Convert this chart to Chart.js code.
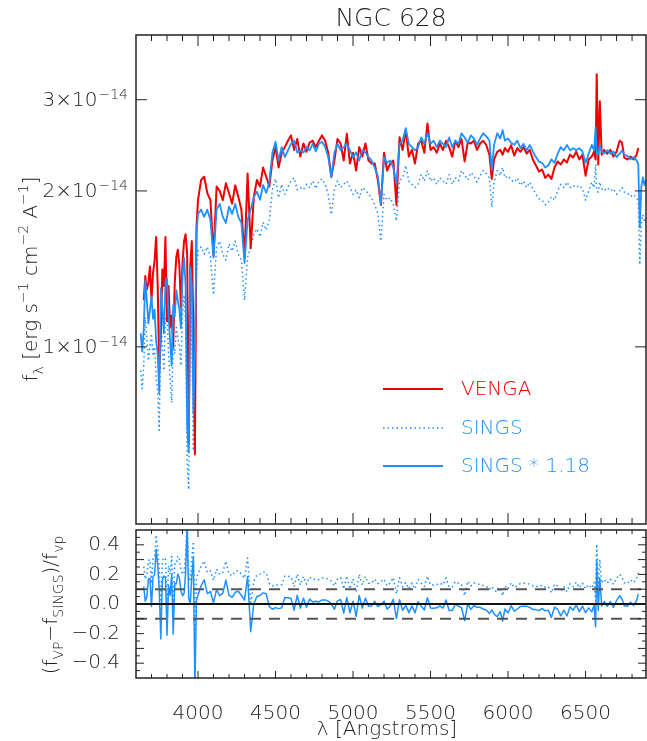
<!DOCTYPE html>
<html>
<head>
<meta charset="utf-8">
<title>NGC 628</title>
<script src="https://cdn.jsdelivr.net/npm/chart.js@4.4.1/dist/chart.umd.min.js"></script>
<style>
  html, body { margin: 0; padding: 0; background: #fff; }
  #page { position: relative; width: 647px; height: 741px; overflow: hidden; }
  canvas { position: absolute; left: 0; }
  #specChart { top: 0; }
  #resChart { top: 510px; }
</style>
</head>
<body>
<div id="page">
  <canvas id="specChart" width="647" height="527"></canvas>
  <canvas id="resChart" width="647" height="231"></canvas>
</div>
<script>
// wavelength grid (Angstroms)
const wave = [
  3630, 3640, 3650, 3660, 3670, 3680, 3690, 3700, 3710, 3720, 3730, 3740, 3750, 3760, 3770, 3780, 3790, 3800, 3810, 3820,
  3830, 3840, 3850, 3860, 3870, 3880, 3890, 3900, 3910, 3920, 3930, 3940, 3950, 3960, 3970, 3980, 3990, 4000,
  4020, 4040, 4060, 4080, 4100, 4120, 4140, 4160, 4180, 4200, 4220, 4240, 4260, 4280, 4300, 4320, 4340, 4360, 4380, 4400,
  4420, 4440, 4460, 4480, 4500, 4520, 4540, 4560, 4580, 4600, 4620, 4640, 4660, 4680,
  4700, 4720, 4740, 4760, 4780, 4800, 4820, 4840, 4860, 4880, 4900, 4920, 4940, 4960, 4980, 5000, 5020, 5040, 5060, 5080,
  5100, 5120, 5140, 5160, 5180, 5200, 5220, 5240, 5260, 5280, 5300, 5320, 5340, 5360, 5380, 5400, 5420, 5440, 5460, 5480,
  5500, 5520, 5540, 5560, 5580, 5600, 5620, 5640, 5660, 5680, 5700, 5720, 5740, 5760, 5780,
  5800, 5820, 5840, 5860, 5880, 5895, 5910, 5930, 5950, 5965, 5980,
  6000, 6020, 6040, 6060, 6080, 6100, 6120, 6140, 6160, 6180, 6200, 6220, 6240, 6260, 6280, 6300, 6320, 6340, 6360, 6380,
  6400, 6420, 6440, 6460, 6480, 6500, 6520, 6540,
  6555, 6565, 6572, 6582, 6592, 6604, 6620, 6640, 6660, 6680, 6700, 6720, 6735, 6750, 6770, 6790, 6810, 6830, 6840, 6850,
  6860, 6870, 6880, 6890
];

// VENGA flux, units of 1e-14 erg/s/cm2/A
const venga = [
  null, null, 1.23, 1.37, 1.29, 1.33, 1.43, 1.23, 1.39, 1.47, 1.63, 1.31, 0.90, 1.05, 1.41, 1.31, 1.63, 1.12, 1.31, 1.09,
  1.15, 1.00, 1.33, 1.49, 1.54, 1.43, 1.19, 1.45, 1.60, 1.65, 1.51, 0.65, 1.43, 1.60, 1.09, 0.62, 1.70, 1.92,
  2.10, 2.13, 1.98, 1.92, 1.50, 2.04, 2.00, 1.92, 2.07, 1.98, 1.89, 2.05, 1.95, 1.84, 1.49, 2.16, 1.55, 1.95, 2.10, 2.04,
  2.22, 2.13, 2.04, 2.29, 2.43, 2.22, 2.37, 2.43, 2.50, 2.56, 2.40, 2.52, 2.33, 2.47,
  2.38, 2.48, 2.50, 2.43, 2.50, 2.56, 2.50, 2.37, 2.13, 2.29, 2.52, 2.47, 2.29, 2.58, 2.26, 2.37, 2.19, 2.43, 2.33, 2.47,
  2.29, 2.26, 2.26, 2.10, 1.88, 2.37, 2.19, 2.26, 2.29, 1.88, 2.54, 2.40, 2.62, 2.33, 2.40, 2.26, 2.47, 2.50, 2.37, 2.70,
  2.40, 2.43, 2.37, 2.47, 2.40, 2.50, 2.43, 2.33, 2.50, 2.43, 2.52, 2.28, 2.48, 2.47, 2.50,
  2.40, 2.47, 2.50, 2.45, 2.35, 2.11, 2.30, 2.38, 2.40, 2.35, 2.42,
  2.38, 2.45, 2.34, 2.42, 2.38, 2.43, 2.36, 2.40, 2.30, 2.24, 2.18, 2.20, 2.12, 2.15, 2.11, 2.22, 2.28, 2.25, 2.30, 2.27,
  2.35, 2.32, 2.38, 2.30, 2.35, 2.14, 2.30, 2.33,
  2.38, 2.30, 3.36, 2.25, 2.98, 2.35, 2.40, 2.36, 2.40, 2.33, 2.38, 2.50, 2.48, 2.32, 2.30, 2.33, 2.30, 2.35, 2.42, null,
  null, null, null, null
];

// SINGS flux (unscaled), units of 1e-14 erg/s/cm2/A
const sings = [
  0.90, 0.83, 0.92, 1.14, 1.04, 0.94, 1.00, 1.06, 0.96, 1.00, 0.87, 0.82, 0.69, 1.10, 1.00, 0.90, 1.13, 1.15, 0.97, 0.87,
  0.78, 1.02, 0.97, 1.09, 1.04, 1.00, 0.92, 1.16, 1.26, 1.11, 0.60, 0.53, 1.21, 1.11, 0.63, 0.82, 1.40, 1.53,
  1.56, 1.51, 1.56, 1.49, 1.26, 1.56, 1.60, 1.51, 1.47, 1.58, 1.53, 1.60, 1.51, 1.47, 1.23, 1.49, 1.56, 1.65, 1.69, 1.63,
  1.74, 1.68, 1.76, 2.01, 2.11, 1.94, 2.06, 1.97, 2.03, 2.09, 2.12, 2.01, 2.03, 2.01,
  2.06, 2.03, 2.09, 2.02, 2.09, 2.11, 2.06, 1.97, 1.80, 2.01, 2.09, 2.03, 2.06, 2.09, 2.03, 1.97, 2.01, 1.94, 2.03, 2.01,
  1.97, 1.94, 1.88, 1.81, 1.60, 1.97, 1.92, 1.94, 1.88, 1.75, 2.09, 2.12, 2.24, 2.09, 2.06, 2.03, 2.06, 2.15, 2.09, 2.19,
  2.09, 2.12, 2.06, 2.12, 2.09, 2.06, 2.15, 2.06, 2.12, 2.09, 2.19, 2.15, 2.10, 2.17, 2.14,
  2.08, 2.14, 2.19, 2.16, 2.12, 1.86, 2.08, 2.19, 2.14, 2.22, 2.12,
  2.14, 2.10, 2.08, 2.12, 2.05, 2.09, 2.03, 2.08, 2.02, 1.97, 1.93, 1.92, 1.88, 1.90, 1.95, 1.92, 2.00, 2.06, 2.03, 2.08,
  2.03, 2.05, 2.03, 2.05, 2.02, 1.92, 2.00, 2.08,
  2.03, 2.25, 2.00, 1.99, 2.08, 2.02, 2.00, 2.03, 2.00, 2.02, 1.97, 2.00, 2.03, 1.99, 1.98, 1.95, 1.97, 1.94, 1.91, 1.44,
  1.73, 1.80, 1.74, 1.78
];

const fluxUnit = 1e-14;
const singsScale = 1.18;

const xMin = 3600, xMax = 6890;
const fluxMin = 0.455, fluxMax = 4.0;     // units of fluxUnit
const resMin = -0.5, resMax = 0.5;

const xTickValues = [4000, 4500, 5000, 5500, 6000, 6500];
const xTickLabels = ['4000', '4500', '5000', '5500', '6000', '6500'];
const fluxTickValues = [1, 2, 3];
const fluxTickLabels = [['1×10', '−14'], ['2×10', '−14'], ['3×10', '−14']];
const resTickValues = [-0.4, -0.2, 0, 0.2, 0.4];
const resTickLabels = ['−0.4', '−0.2', '0.0', '0.2', '0.4'];
const resBandLevels = [0.1, -0.1];

const legendOrder = ['VENGA', 'SINGS', 'SINGS * 1.18'];

const FONT = '"DejaVu Sans", sans-serif';
const WEIGHT = '200 ';
const INK = '#222';
const RED = 'rgb(238,0,0)';
const BLUE = 'rgb(30,144,255)';

// residuals (f_vp - f_sings) / f_vp
const resRaw = wave.map((w, i) => venga[i] == null ? null : (venga[i] - sings[i]) / venga[i]);
const resScaled = wave.map((w, i) => venga[i] == null ? null : (venga[i] - sings[i] * singsScale) / venga[i]);

function pts(arr, f) {
  return wave.map((w, i) => ({ x: w, y: arr[i] == null ? null : f(arr[i]) }));
}

function font(size) { return WEIGHT + size + 'px ' + FONT; }

// text with sub/superscripts, parts = [[text, 'sub'|'sup'|undefined], ...]
function richWidth(ctx, parts, size) {
  let w = 0;
  parts.forEach(p => {
    ctx.font = font(p[1] ? size * 0.7 : size);
    w += ctx.measureText(p[0]).width;
  });
  return w;
}
function drawRich(ctx, parts, x, y, size, align) {
  const w = richWidth(ctx, parts, size);
  let cx = align === 'center' ? x - w / 2 : (align === 'right' ? x - w : x);
  ctx.textAlign = 'left';
  ctx.textBaseline = 'alphabetic';
  parts.forEach(p => {
    ctx.font = font(p[1] ? size * 0.7 : size);
    const dy = p[1] === 'sup' ? -size * 0.45 : (p[1] === 'sub' ? size * 0.28 : 0);
    ctx.fillText(p[0], cx, y + dy);
    cx += ctx.measureText(p[0]).width;
  });
}

// IDL style box with inward ticks on all four sides
const frameTicks = {
  id: 'frameTicks',
  afterDatasetsDraw(chart, args, opts) {
    const ctx = chart.ctx, a = chart.chartArea;
    const xs = chart.scales.x, ys = chart.scales.y;
    ctx.save();
    ctx.strokeStyle = INK;
    ctx.lineWidth = 1;
    ctx.beginPath();
    opts.xTicks.forEach(t => {
      const px = xs.getPixelForValue(t[0]);
      ctx.moveTo(px, a.bottom); ctx.lineTo(px, a.bottom - t[1]);
      ctx.moveTo(px, a.top); ctx.lineTo(px, a.top + t[1]);
    });
    opts.yTicks.forEach(t => {
      const py = ys.getPixelForValue(t[0]);
      ctx.moveTo(a.left, py); ctx.lineTo(a.left + t[1], py);
      ctx.moveTo(a.right, py); ctx.lineTo(a.right - t[1], py);
    });
    ctx.stroke();
    ctx.lineWidth = 1.5;
    ctx.strokeRect(a.left, a.top, a.right - a.left, a.bottom - a.top);
    ctx.restore();
  }
};

function xTickList(majorLen, minorLen) {
  const list = [];
  for (let v = 3700; v <= 6800; v += 100) {
    list.push([v, xTickValues.includes(v) ? majorLen : minorLen]);
  }
  return list;
}

const specLabels = {
  id: 'specLabels',
  afterDraw(chart) {
    const ctx = chart.ctx, a = chart.chartArea, ys = chart.scales.y;
    ctx.save();
    ctx.fillStyle = INK;
    // title
    ctx.font = font(25);
    ctx.textAlign = 'center';
    ctx.textBaseline = 'alphabetic';
    ctx.fillText('NGC 628', (a.left + a.right) / 2, 26);
    // y tick labels
    fluxTickValues.forEach((v, i) => {
      const py = ys.getPixelForValue(v * fluxUnit);
      const lab = fluxTickLabels[i];
      ctx.font = font(14);
      const ew = ctx.measureText(lab[1]).width;
      ctx.textAlign = 'right';
      ctx.fillText(lab[1], 128, py - 1);
      ctx.font = font(20);
      ctx.fillText(lab[0], 128 - ew - 1, py + 6);
    });
    // y title
    ctx.save();
    ctx.translate(37, 279);
    ctx.rotate(-Math.PI / 2);
    drawRich(ctx, [['f'], ['λ', 'sub'], [' [erg s'], ['−1', 'sup'], [' cm'], ['−2', 'sup'], [' A'], ['−1', 'sup'], [']']], 0, 0, 20, 'center');
    ctx.restore();
    // legend
    const rows = [389, 428, 466];
    legendOrder.forEach((name, i) => {
      const ds = chart.data.datasets.find(d => d.label === name);
      ctx.save();
      ctx.strokeStyle = ds.borderColor;
      ctx.lineWidth = ds.borderWidth;
      ctx.setLineDash(ds.borderDash || []);
      ctx.beginPath();
      ctx.moveTo(383, rows[i]); ctx.lineTo(443, rows[i]);
      ctx.stroke();
      ctx.restore();
      ctx.fillStyle = ds.borderColor;
      ctx.font = font(20);
      ctx.textAlign = 'left';
      ctx.textBaseline = 'middle';
      ctx.fillText(name, 461, rows[i] + 1);
    });
    ctx.restore();
  }
};

const resLabels = {
  id: 'resLabels',
  afterDraw(chart) {
    const ctx = chart.ctx, a = chart.chartArea;
    ctx.save();
    ctx.fillStyle = INK;
    ctx.font = font(20);
    ctx.textAlign = 'center';
    ctx.textBaseline = 'alphabetic';
    ctx.fillText('λ [Angstroms]', (a.left + a.right) / 2 - 4, 225);
    ctx.translate(57, 95);
    ctx.rotate(-Math.PI / 2);
    drawRich(ctx, [['(f'], ['VP', 'sub'], ['−f'], ['SINGS', 'sub'], [')/f'], ['vp', 'sub']], 0, 0, 20, 'center');
    ctx.restore();
  }
};

Chart.defaults.font.family = FONT;

new Chart(document.getElementById('specChart'), {
  type: 'line',
  data: {
    datasets: [
      { label: 'SINGS * 1.18', data: pts(sings, v => v * singsScale * fluxUnit), borderColor: BLUE, borderWidth: 1.8 },
      { label: 'VENGA', data: pts(venga, v => v * fluxUnit), borderColor: RED, borderWidth: 2 },
      { label: 'SINGS', data: pts(sings, v => v * fluxUnit), borderColor: BLUE, borderWidth: 1.5, borderDash: [1.5, 3] }
    ]
  },
  options: {
    responsive: false,
    animation: false,
    events: [],
    elements: { point: { radius: 0 }, line: { tension: 0, borderJoinStyle: 'round' } },
    layout: { padding: { left: 0, right: 1, top: 35, bottom: 3 } },
    scales: {
      x: { type: 'linear', min: xMin, max: xMax, display: false },
      y: {
        type: 'logarithmic', min: fluxMin * fluxUnit, max: fluxMax * fluxUnit,
        ticks: { display: false }, grid: { display: false }, border: { display: false },
        afterFit: s => { s.width = 136; }
      }
    },
    plugins: {
      legend: { display: false },
      tooltip: { enabled: false },
      frameTicks: {
        xTicks: xTickList(11, 6),
        yTicks: fluxTickValues.map(v => [v * fluxUnit, 11])
      }
    }
  },
  plugins: [frameTicks, specLabels]
});

const resYTicks = [];
for (let k = -9; k <= 9; k++) resYTicks.push([k * 0.05, k % 2 === 0 ? 8 : 4]);

new Chart(document.getElementById('resChart'), {
  type: 'line',
  data: {
    datasets: [
      { label: 'zero', data: [{ x: xMin, y: 0 }, { x: xMax, y: 0 }], borderColor: '#111', borderWidth: 2 },
      { label: 'upper', data: [{ x: xMin, y: resBandLevels[0] }, { x: xMax, y: resBandLevels[0] }], borderColor: '#555', borderWidth: 2, borderDash: [11, 8] },
      { label: 'lower', data: [{ x: xMin, y: resBandLevels[1] }, { x: xMax, y: resBandLevels[1] }], borderColor: '#555', borderWidth: 2, borderDash: [11, 8] },
      { label: 'SINGS * 1.18', data: pts(resScaled, v => v), borderColor: BLUE, borderWidth: 1.5 },
      { label: 'SINGS', data: pts(resRaw, v => v), borderColor: BLUE, borderWidth: 1.5, borderDash: [1.5, 3] }
    ]
  },
  options: {
    responsive: false,
    animation: false,
    events: [],
    elements: { point: { radius: 0 }, line: { tension: 0, borderJoinStyle: 'round' } },
    layout: { padding: { left: 0, right: 1, top: 16, bottom: 0 } },
    scales: {
      x: {
        type: 'linear', min: xMin, max: xMax,
        grid: { display: false }, border: { display: false },
        afterBuildTicks: s => { s.ticks = xTickValues.map(v => ({ value: v })); },
        ticks: { color: INK, font: { size: 20, weight: 200 }, padding: 16, maxRotation: 0, autoSkip: false,
                 callback: (v, i) => xTickLabels[i] },
        afterFit: s => { s.height = 63; }
      },
      y: {
        min: resMin, max: resMax,
        grid: { display: false }, border: { display: false },
        afterBuildTicks: s => { s.ticks = resTickValues.map(v => ({ value: v })); },
        ticks: { color: INK, font: { size: 20, weight: 200 }, padding: 8, callback: (v, i) => resTickLabels[i] },
        afterFit: s => { s.width = 136; }
      }
    },
    plugins: {
      legend: { display: false },
      tooltip: { enabled: false },
      frameTicks: {
        xTicks: xTickList(7, 4),
        yTicks: resYTicks
      }
    }
  },
  plugins: [frameTicks, resLabels]
});
</script>
</body>
</html>
